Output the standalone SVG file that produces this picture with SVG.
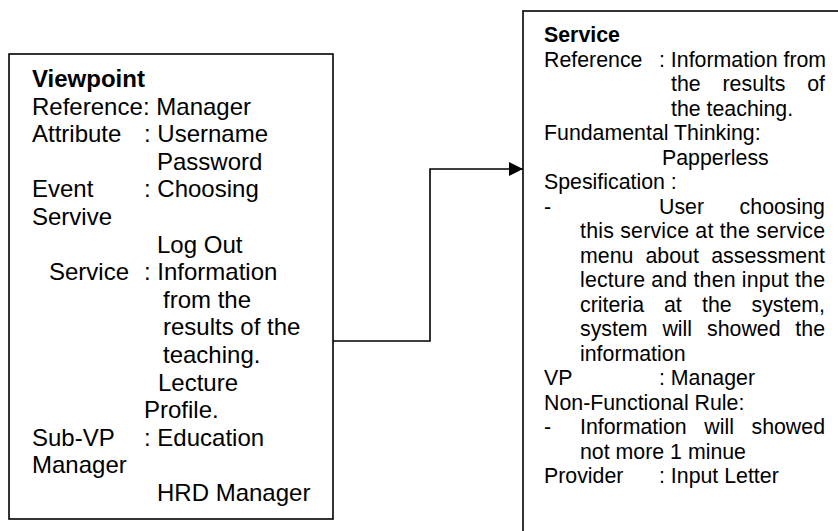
<svg xmlns="http://www.w3.org/2000/svg" width="838" height="531" viewBox="0 0 838 531">
  <style>
    .box { fill: #ffffff; stroke: #000000; stroke-width: 1.6; }
    .edge { fill: none; stroke: #000000; stroke-width: 1.6; }
    text { font-family: "Liberation Sans", Arial, sans-serif; fill: #000000; }
    .lg { font-size: 24px; }
    .sm { font-size: 21.33px; }
    .b { font-weight: bold; }
  </style>
  <defs>
    <marker id="arrow" viewBox="0 0 10 10" refX="10" refY="5" markerUnits="userSpaceOnUse" markerWidth="14" markerHeight="14" orient="auto">
      <path d="M0,0 L10,5 L0,10 z" fill="#000000"/>
    </marker>
  </defs>
  <rect width="838" height="531" fill="#ffffff"/>

  <!-- Viewpoint node -->
  <g id="viewpoint">
    <rect class="box" x="9" y="54" width="324" height="465"/>
    <g class="lg">
      <text class="b" x="32" y="87">Viewpoint</text>
      <text x="32" y="114.6">Reference</text><text x="143" y="114.6">: Manager</text>
      <text x="32" y="142.2">Attribute</text><text x="144" y="142.2">: Username</text>
      <text x="157" y="169.8">Password</text>
      <text x="32" y="197.4">Event</text><text x="144" y="197.4">: Choosing</text>
      <text x="32" y="225">Servive</text>
      <text x="157" y="252.6">Log Out</text>
      <text x="49" y="280.2">Service</text><text x="144" y="280.2">: Information</text>
      <text x="163" y="307.8">from the</text>
      <text x="163" y="335.4">results of the</text>
      <text x="163" y="363">teaching.</text>
      <text x="158" y="390.6">Lecture</text>
      <text x="144" y="418.2">Profile.</text>
      <text x="32" y="445.8">Sub-VP</text><text x="144" y="445.8">: Education</text>
      <text x="32" y="473.4">Manager</text>
      <text x="157" y="501">HRD Manager</text>
    </g>
  </g>

  <!-- Service node -->
  <g id="service">
    <rect class="box" x="523" y="11" width="330" height="540"/>
    <g class="sm">
      <text class="b" x="544" y="42">Service</text>
      <text x="544" y="66.5">Reference</text><text x="659" y="66.5">: Information from</text>
      <text x="671" y="91">the</text><text x="722.5" y="91">results</text><text x="825" y="91" text-anchor="end">of</text>
      <text x="671" y="115.5">the teaching.</text>
      <text x="544" y="140">Fundamental Thinking:</text>
      <text x="662" y="164.5">Papperless</text>
      <text x="544" y="189">Spesification :</text>
      <text x="544" y="213.5">-</text><text x="659" y="213.5">User</text><text x="825" y="213.5" text-anchor="end">choosing</text>
      <text x="580" y="238" textLength="245" lengthAdjust="spacing">this service at the service</text>
      <text x="580" y="262.5">menu</text><text x="645.5" y="262.5">about</text><text x="825" y="262.5" text-anchor="end">assessment</text>
      <text x="580" y="287" textLength="245" lengthAdjust="spacing">lecture and then input the</text>
      <text x="580" y="311.5">criteria</text><text x="664" y="311.5">at</text><text x="702" y="311.5">the</text><text x="825" y="311.5" text-anchor="end">system,</text>
      <text x="580" y="336">system</text><text x="662.4" y="336">will</text><text x="707" y="336">showed</text><text x="825" y="336" text-anchor="end">the</text>
      <text x="580" y="360.5">information</text>
      <text x="544" y="385">VP</text><text x="659" y="385">: Manager</text>
      <text x="544" y="409.5">Non-Functional Rule:</text>
      <text x="544" y="434">-</text><text x="580" y="434">Information</text><text x="704.3" y="434">will</text><text x="825" y="434" text-anchor="end">showed</text>
      <text x="580" y="458.5">not more 1 minue</text>
      <text x="544" y="483">Provider</text><text x="659" y="483">: Input Letter</text>
    </g>
  </g>

  <!-- Connectors -->
  <g id="connectors">
    <polyline class="edge" points="333,341 430,341 430,169 523,169" marker-end="url(#arrow)"/>
  </g>
</svg>
